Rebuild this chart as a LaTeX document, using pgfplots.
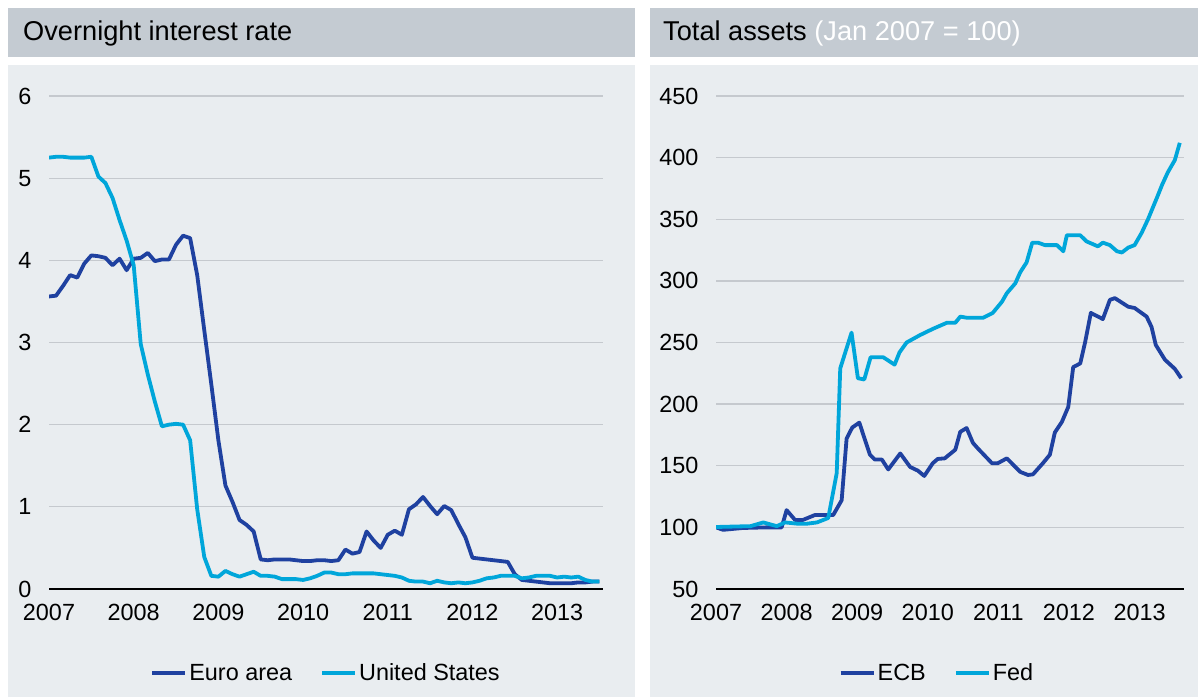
\documentclass[border=0pt]{standalone}
\usepackage{fontspec}
\setmainfont{Liberation Sans}
\usepackage{pgfplots}
\pgfplotsset{compat=1.18}

\definecolor{darkblue}{RGB}{31,65,160}
\definecolor{lightblue}{RGB}{0,166,218}
\definecolor{panelbg}{RGB}{233,237,240}
\definecolor{headbg}{RGB}{196,203,210}
\definecolor{gridgray}{RGB}{197,201,206}

\pgfplotsset{
  panel/.style={
    scale only axis,
    height=493bp,
    axis x line*=bottom,
    axis y line*=left,
    y axis line style={draw=none},
    x axis line style={black, line width=1.6bp, -},
    major tick length=0pt,
    ymajorgrids,
    grid style={gridgray, line width=1.3bp},
    xticklabels={2007,2008,2009,2010,2011,2012,2013},
    tick label style={font=\fontsize{23.5}{27}\selectfont},
    /pgf/number format/assume math mode=true,
    xticklabel style={yshift=-12bp},
    yticklabel style={xshift=-14bp},
    legend style={draw=none, fill=none, legend columns=2, inner sep=0pt,
      font=\fontsize{23.5}{27}\selectfont,
      /tikz/every even column/.append style={column sep=26bp}},
    legend image code/.code={\draw[##1, line width=4bp] (0bp,0bp) -- (33bp,0bp);},
    every axis plot/.append style={line width=3.8bp, line join=round},
  },
}

\begin{document}
\begin{tikzpicture}[x=1bp, y=1bp]
% panels
\fill[white] (0,0) rectangle (1200,697);
\fill[headbg] (8,640) rectangle (635,689);
\fill[panelbg] (8,0) rectangle (635,632);
\fill[headbg] (650,640) rectangle (1198,689);
\fill[panelbg] (650,0) rectangle (1198,632);
\node[anchor=west, inner sep=0pt, font=\fontsize{27.3}{31}\selectfont] at (23,664) {Overnight interest rate};
\node[anchor=west, inner sep=0pt, font=\fontsize{27.3}{31}\selectfont] at (663,664) {Total assets \textcolor{white}{(Jan 2007 = 100)}};

% left: overnight rate, x in months since Jan 2007
\begin{axis}[panel, at={(49bp,108bp)}, anchor=south west, width=554bp,
  xmin=0, xmax=78.5, ymin=0, ymax=6,
  xtick={0,12,24,36,48,60,72}, ytick={0,1,...,6},
  legend style={at={(0.5,-0.170)}, anchor=center}]
\addplot[darkblue] coordinates {
(0,3.56)(1,3.57)(2,3.69)(3,3.82)(4,3.79)(5,3.96)(6,4.06)(7,4.05)(8,4.03)(9,3.94)(10,4.02)(11,3.88)
(12,4.02)(13,4.03)(14,4.09)(15,3.99)(16,4.01)(17,4.01)(18,4.19)(19,4.30)(20,4.27)(21,3.82)(22,3.15)(23,2.49)
(24,1.81)(25,1.26)(26,1.06)(27,0.84)(28,0.78)(29,0.70)(30,0.36)(31,0.35)(32,0.36)(33,0.36)(34,0.36)(35,0.35)
(36,0.34)(37,0.34)(38,0.35)(39,0.35)(40,0.34)(41,0.35)(42,0.48)(43,0.43)(44,0.45)(45,0.70)(46,0.59)(47,0.50)
(48,0.66)(49,0.71)(50,0.66)(51,0.97)(52,1.03)(53,1.12)(54,1.01)(55,0.91)(56,1.01)(57,0.96)(58,0.79)(59,0.63)
(60,0.38)(61,0.37)(62,0.36)(63,0.35)(64,0.34)(65,0.33)(66,0.18)(67,0.11)(68,0.10)(69,0.09)(70,0.08)(71,0.07)
(72,0.07)(73,0.07)(74,0.07)(75,0.08)(76,0.08)(77,0.09)(78,0.09)
};
\addlegendentry{Euro area}
\addplot[lightblue] coordinates {
(0,5.25)(1,5.26)(2,5.26)(3,5.25)(4,5.25)(5,5.25)(6,5.26)(7,5.02)(8,4.94)(9,4.76)(10,4.49)(11,4.24)
(12,3.94)(13,2.98)(14,2.61)(15,2.28)(16,1.98)(17,2.00)(18,2.01)(19,2.00)(20,1.81)(21,0.97)(22,0.39)(23,0.16)
(24,0.15)(25,0.22)(26,0.18)(27,0.15)(28,0.18)(29,0.21)(30,0.16)(31,0.16)(32,0.15)(33,0.12)(34,0.12)(35,0.12)
(36,0.11)(37,0.13)(38,0.16)(39,0.20)(40,0.20)(41,0.18)(42,0.18)(43,0.19)(44,0.19)(45,0.19)(46,0.19)(47,0.18)
(48,0.17)(49,0.16)(50,0.14)(51,0.10)(52,0.09)(53,0.09)(54,0.07)(55,0.10)(56,0.08)(57,0.07)(58,0.08)(59,0.07)
(60,0.08)(61,0.10)(62,0.13)(63,0.14)(64,0.16)(65,0.16)(66,0.16)(67,0.13)(68,0.14)(69,0.16)(70,0.16)(71,0.16)
(72,0.14)(73,0.15)(74,0.14)(75,0.15)(76,0.11)(77,0.09)(78,0.09)
};
\addlegendentry{United States}
\end{axis}

% right: total assets, x in years since Jan 2007
\begin{axis}[panel, at={(716bp,108bp)}, anchor=south west, width=468bp,
  xmin=0, xmax=6.63, ymin=50, ymax=450,
  xtick={0,1,...,6}, ytick={50,100,...,450},
  legend style={at={(0.472,-0.170)}, anchor=center}]
\addplot[darkblue] coordinates {
(0,100)(0.1,98)(0.38,99.5)(0.72,100)(0.93,100)(1.0,114)(1.12,106)(1.23,106)(1.4,110)(1.66,110)
(1.78,122)(1.85,172)(1.93,181)(2.03,185)(2.18,159)(2.25,155)(2.35,155)(2.44,147)(2.61,160)(2.75,149)
(2.86,146)(2.95,141.7)(3.07,152)(3.14,155.5)(3.24,156)(3.39,163)(3.46,177.5)(3.55,180.6)(3.64,168.5)(3.71,164)
(3.91,152)(3.99,152)(4.12,156)(4.31,145)(4.42,142.5)(4.49,143)(4.63,152)(4.73,159)(4.8,177)(4.9,185.6)
(4.99,197.7)(5.06,230)(5.16,233)(5.23,250.5)(5.31,274)(5.48,269)(5.58,284.6)(5.65,286)(5.84,279)(5.93,278)
(6.1,271)(6.17,262.6)(6.23,248)(6.36,236)(6.5,228.6)(6.59,221)
};
\addlegendentry{ECB}
\addplot[lightblue] coordinates {
(0,100.3)(0.49,101)(0.67,104)(0.86,101)(0.98,104)(1.15,103)(1.29,103)(1.43,104)(1.59,107.6)(1.71,144)
(1.76,229)(1.92,258)(2.01,221)(2.1,220)(2.19,238)(2.37,238)(2.53,232)(2.6,242)(2.7,250)(2.89,256)
(3.07,261)(3.27,266)(3.39,266)(3.46,271)(3.56,270)(3.78,270)(3.92,274)(4.05,283)(4.12,290)(4.24,298)
(4.31,307)(4.4,315)(4.48,331)(4.56,331)(4.66,329)(4.83,329)(4.92,324)(4.97,337)(5.16,337)(5.25,332)
(5.41,328)(5.48,331)(5.58,329)(5.68,324)(5.75,323)(5.84,327)(5.93,329)(6.03,339)(6.12,350)(6.25,368)
(6.32,378)(6.4,388)(6.5,398)(6.57,412)
};
\addlegendentry{Fed}
\end{axis}
\pgfresetboundingbox
\path (0,0) rectangle (1200,697);
\end{tikzpicture}
\end{document}
